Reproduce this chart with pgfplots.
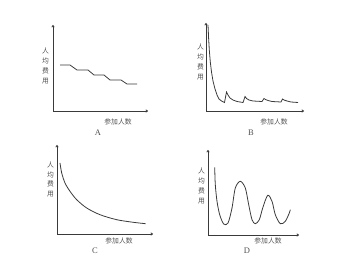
\documentclass[border=0pt]{standalone}
\usepackage{pgfplots}
\pgfplotsset{compat=1.18}
\usetikzlibrary{arrows.meta}
\usepackage{fontspec}
\setmainfont{Liberation Serif}
\newfontfamily\cjk{Noto Sans CJK SC}
\definecolor{ink}{HTML}{3A3A3A}
\definecolor{txt}{HTML}{505050}
\pgfplotsset{
  panel/.style={
    scale only axis, anchor=south west, clip=false,
    axis lines=left, ticks=none,
    axis line style={draw=ink, line width=0.8pt, -{To[length=2.5pt,width=3pt]}},
  },
  curve/.style={draw=ink, line width=0.8pt, no marks},
}
\begin{document}
\begin{tikzpicture}[x=1pt,y=1pt]
\path[use as bounding box] (0,0) rectangle (344,276);
% ---- A ----
\begin{axis}[panel, at={(53pt,165pt)}, width=95pt, height=86pt,
  xmin=53, xmax=148, ymin=165, ymax=251]
\addplot[curve] coordinates {(60,211) (70,211) (77,206) (88,206) (94,201) (104,201) (110,196) (121,196) (127,192) (137,192)};
\end{axis}
% ---- B ----
\begin{axis}[panel, at={(206pt,165pt)}, width=98pt, height=88pt,
  xmin=206, xmax=304, ymin=165, ymax=253]
\addplot[curve] coordinates {(208,251) (208.6,238) (209.3,226) (210.3,214) (211.5,204) (213,195) (215,187) (217,181) (219,177) (221.5,175) (224.5,173.5)
 (226.5,184) (228,181) (230,178) (233,176) (237,174.5) (243,173.5)
 (245,179.5) (246.5,177.5) (249,176) (253,175) (262,174.5)
 (264,177.5) (265.5,176.5) (268,175.5) (272,174.5) (281,174)
 (282.5,177) (284,176) (287,175) (291,174) (298,173.5)};
\end{axis}
% ---- C ----
\begin{axis}[panel, at={(57pt,42pt)}, width=96pt, height=89pt,
  xmin=57, xmax=153, ymin=42, ymax=131]
\addplot[curve, smooth] coordinates {(60,113) (61.7,103) (65,93) (70,84.7) (76.7,76.3) (86.7,68) (100,61.3) (116.7,56.3) (133.3,53.7) (145.7,52.3)};
\end{axis}
% ---- D ----
\begin{axis}[panel, at={(208pt,41pt)}, width=91pt, height=85pt,
  xmin=208, xmax=299, ymin=41, ymax=126]
\addplot[curve, smooth] coordinates {(214.7,108.7) (215.3,91.3) (217,74.7) (219.7,61.3) (223.7,52) (228,53) (232,68) (235.3,88) (240.3,94.7) (245.3,88) (248.7,71.3) (252,56.3) (255.3,52.3) (259.3,56.3) (262.7,68) (267.7,80.7) (272,74.7) (275.3,61.3) (280.3,52.3) (285.3,54.7) (289.3,63) (290.3,66.3)};
\end{axis}
% ---- labels ----
\tikzset{yl/.style={align=center, text=txt, inner sep=0pt, font=\cjk\fontsize{6.8}{9.8}\selectfont},
         xl/.style={text=txt, inner sep=0pt, font=\cjk\fontsize{6.8}{8}\selectfont},
         pl/.style={text=txt, inner sep=0pt, font=\fontsize{8.5}{9}\selectfont}}
\node[yl] at (45.5,210) {人\\均\\费\\用};
\node[xl] at (118,154) {参加人数};
\node[pl] at (98,143) {A};
\node[yl] at (200.5,214) {人\\均\\费\\用};
\node[xl] at (274,154) {参加人数};
\node[pl] at (251,143) {B};
\node[yl] at (50.5,96.5) {人\\均\\费\\用};
\node[xl] at (119,35) {参加人数};
\node[pl] at (95,25) {C};
\node[yl] at (201.5,90) {人\\均\\费\\用};
\node[xl] at (268,35) {参加人数};
\node[pl] at (247,25) {D};
\end{tikzpicture}
\end{document}
